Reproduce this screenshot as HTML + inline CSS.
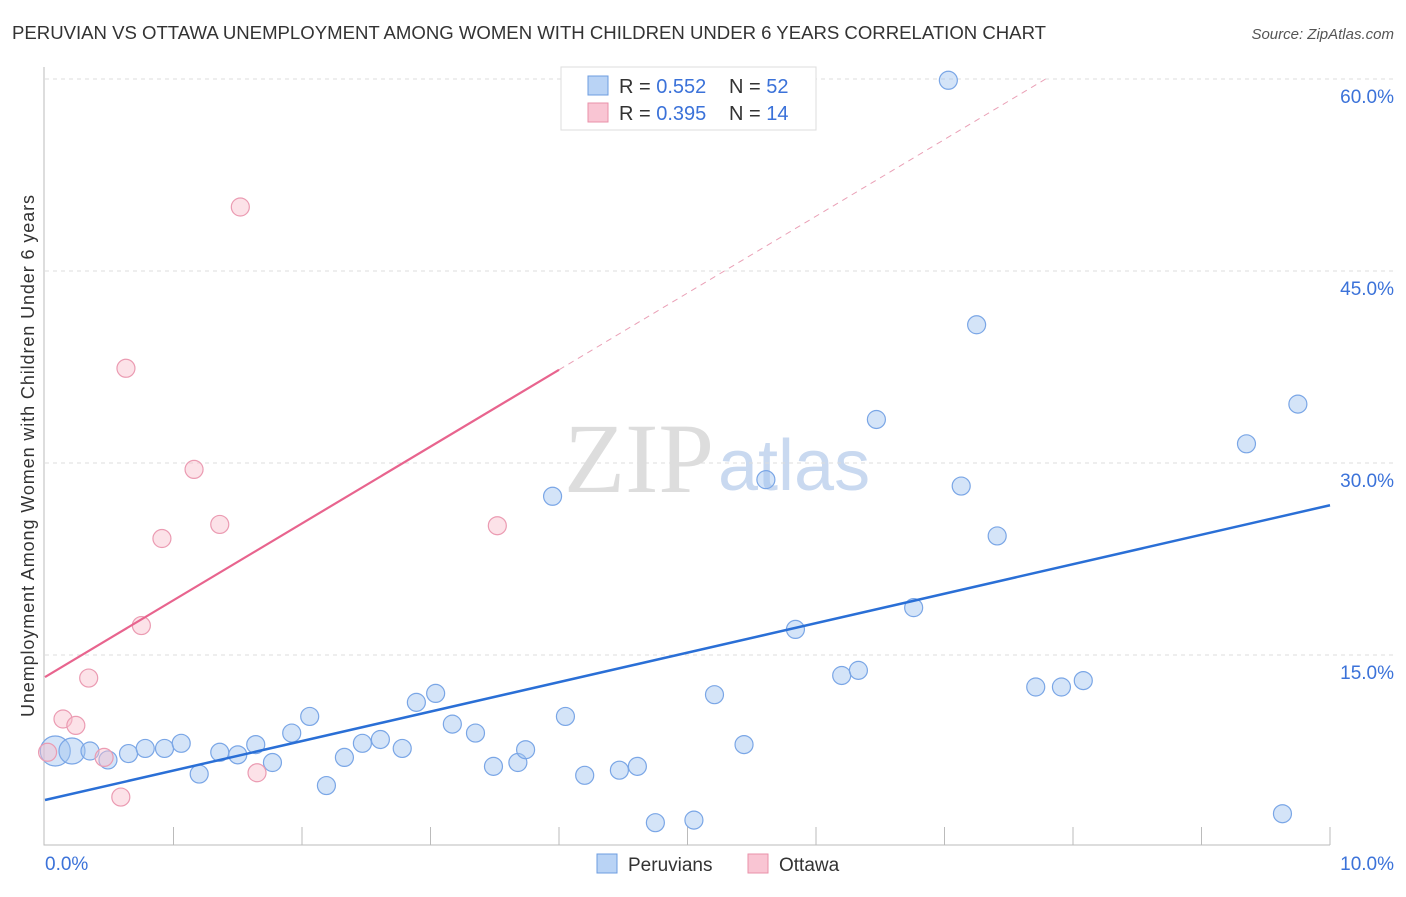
<!DOCTYPE html>
<html><head><meta charset="utf-8"><style>
body{margin:0;background:#fff;font-family:"Liberation Sans",sans-serif}
</style></head><body>
<svg width="1406" height="892" viewBox="0 0 1406 892" xmlns="http://www.w3.org/2000/svg">
<text x="12" y="39" font-size="18.6" fill="#333" textLength="1034">PERUVIAN VS OTTAWA UNEMPLOYMENT AMONG WOMEN WITH CHILDREN UNDER 6 YEARS CORRELATION CHART</text>
<text x="1394" y="39" font-size="15" fill="#555" font-style="italic" text-anchor="end">Source: ZipAtlas.com</text>
<text x="714" y="492" font-size="100" fill="#ddd" text-anchor="end" font-family="Liberation Serif,serif">ZIP</text>
<text x="718" y="490" font-size="72" fill="#c9d9f0">atlas</text>
<g id="grid"></g><g id="axes"></g><g id="marks"></g>
<text transform="translate(34,456) rotate(-90)" font-size="18" fill="#333" text-anchor="middle" textLength="522">Unemployment Among Women with Children Under 6 years</text>
<text x="45" y="870" font-size="19" fill="#3b72d9">0.0%</text>
<text x="1394" y="870" font-size="19" fill="#3b72d9" text-anchor="end">10.0%</text>
<g>
<rect x="561" y="67" width="255" height="63" fill="#fff" stroke="#ddd"/>
<rect x="588" y="76" width="20" height="19" fill="#b9d3f5" stroke="#6d9de0"/>
<rect x="588" y="103" width="20" height="19" fill="#f9c5d3" stroke="#e991aa"/>
<text x="619" y="93" font-size="20" fill="#333">R = <tspan fill="#3b72d9">0.552</tspan><tspan x="729">N = </tspan><tspan fill="#3b72d9">52</tspan></text>
<text x="619" y="120" font-size="20" fill="#333">R = <tspan fill="#3b72d9">0.395</tspan><tspan x="729">N = </tspan><tspan fill="#3b72d9">14</tspan></text>
</g>
<g>
<rect x="597" y="854" width="20" height="19" fill="#b9d3f5" stroke="#6d9de0"/>
<text x="628" y="871" font-size="19" fill="#333">Peruvians</text>
<rect x="748" y="854" width="20" height="19" fill="#f9c5d3" stroke="#e991aa"/>
<text x="779" y="871" font-size="19" fill="#333">Ottawa</text>
</g>
</svg>
<script>
const yTicks=[15,30,45,60];
const yTickLabels=["15.0%","30.0%","45.0%","60.0%"];
const blueX=[0.08,0.21,0.35,0.49,0.65,0.78,0.93,1.06,1.2,1.36,1.5,1.64,1.77,1.92,2.06,2.19,2.33,2.47,2.61,2.78,2.89,3.04,3.17,3.35,3.49,3.68,3.74,3.95,4.05,4.2,4.47,4.61,4.75,5.05,5.21,5.44,5.61,5.84,6.2,6.33,6.47,6.76,7.03,7.13,7.25,7.41,7.71,7.91,8.08,9.35,9.63,9.75];
const blueY=[7.5,7.5,7.5,6.8,7.3,7.7,7.7,8.1,5.7,7.4,7.2,8.0,6.6,8.9,10.2,4.8,7.0,8.1,8.4,7.7,11.3,12.0,9.6,8.9,6.3,6.6,7.6,27.4,10.2,5.6,6.0,6.3,1.9,2.1,11.9,8.0,28.7,17.0,13.4,13.8,33.4,18.7,59.9,28.2,40.8,24.3,12.5,12.5,13.0,31.5,2.6,34.6];
const blueR=[15,13,9,9,9,9,9,9,9,9,9,9,9,9,9,9,9,9,9,9,9,9,9,9,9,9,9,9,9,9,9,9,9,9,9,9,9,9,9,9,9,9,9,9,9,9,9,9,9,9,9,9];
const pinkX=[0.02,0.14,0.24,0.34,0.46,0.59,0.63,0.75,0.91,1.16,1.36,1.52,1.65,3.52];
const pinkY=[7.4,10.0,9.5,13.2,7.0,3.9,37.4,17.3,24.1,29.5,25.2,50.0,5.8,25.1];
const blueLine=[3.67,26.7];
const pinkLine=[13.28,6.0];
const X=v=>45+v*128.5, Y=v=>847-v*12.8;
const NS="http://www.w3.org/2000/svg";
function mk(p,t,a){const e=document.createElementNS(NS,t);for(const k in a)e.setAttribute(k,a[k]);document.getElementById(p).appendChild(e);return e;}
yTicks.forEach((t,i)=>{
const g=mk('grid','line',{x1:45,x2:1394,y1:Y(t),y2:Y(t),stroke:'#ddd','stroke-dasharray':'4,4'});


const l=mk('grid','text',{x:1394,y:Y(t)+24,'font-size':19,fill:'#3b72d9','text-anchor':'end'});l.textContent=yTickLabels[i];


});
const ax=mk('axes','path',{d:'M44,67V845H1330',stroke:'#bbb',fill:'none'});


for(let i=1;i<=10;i++){const t=mk('axes','line',{x1:X(i),x2:X(i),y1:827,y2:845,stroke:'#bbb'});

}
blueX.forEach((x,i)=>{const c=mk('marks','circle',{cx:X(x),cy:Y(blueY[i]),r:blueR[i],fill:'rgba(160,195,240,0.45)',stroke:'#7aa6e6','stroke-width':1.2});

});
pinkX.forEach((x,i)=>{const c=mk('marks','circle',{cx:X(x),cy:Y(pinkY[i]),r:9,fill:'rgba(248,190,205,0.45)',stroke:'#eb9bb2','stroke-width':1.2});

});
const bl=mk('marks','line',{x1:X(0),y1:Y(blueLine[0]),x2:X(10),y2:Y(blueLine[1]),stroke:'#2a6fd6','stroke-width':2.5});


const pl=mk('marks','line',{x1:X(0),y1:Y(pinkLine[0]),x2:X(4),y2:Y(pinkLine[0]+4*pinkLine[1]),stroke:'#e8648e','stroke-width':2.2});


const xe=(60-pinkLine[0])/pinkLine[1];
const pd=mk('marks','line',{x1:X(4),y1:Y(pinkLine[0]+4*pinkLine[1]),x2:X(xe),y2:Y(60),stroke:'#eaa0b6','stroke-width':1,'stroke-dasharray':'6,5'});


</script>
</body></html>
